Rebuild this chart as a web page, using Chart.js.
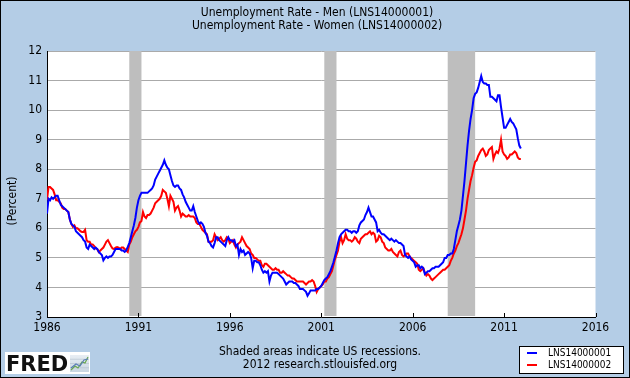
<!DOCTYPE html>
<html><head><meta charset="utf-8">
<script src="https://cdn.jsdelivr.net/npm/chart.js@4.4.1/dist/chart.umd.min.js"></script>
<style>html,body{margin:0;padding:0;background:#b4cde6;}canvas{display:block;}</style>
</head><body>
<canvas id="c" width="630" height="378"></canvas>
<script>
const startYear = 1986;
const titleLines = ["Unemployment Rate - Men (LNS14000001)", "Unemployment Rate - Women (LNS14000002)"];
const yAxisLabel = "(Percent)";
const footerLines = ["Shaded areas indicate US recessions.", "2012 research.stlouisfed.org"];
const seriesNames = ["LNS14000001", "LNS14000002"];
const xTickYears = [1986, 1991, 1996, 2001, 2006, 2011, 2016];
const yTicks = [3, 4, 5, 6, 7, 8, 9, 10, 11, 12];
// recessions as [start, end] in decimal years
const recessions = [[1990.5, 1991.1667], [2001.1667, 2001.8333], [2007.9167, 2009.4167]];

// Monthly, Jan 1986 - Dec 2011
const menRate = [
 6.5,7.0,6.95,7.05,7.0,7.05,7.1,7.1,6.95,6.8,6.75,6.7,
 6.65,6.6,6.55,6.3,6.15,6.1,6.05,5.9,5.85,5.8,5.75,5.7,
 5.6,5.55,5.35,5.3,5.45,5.4,5.35,5.3,5.35,5.3,5.2,5.15,
 5.1,4.92,5.0,5.05,5.0,5.05,5.05,5.1,5.2,5.3,5.3,5.3,
 5.3,5.25,5.25,5.2,5.25,5.37,5.5,5.7,5.9,6.1,6.35,6.7,
 6.95,7.1,7.2,7.2,7.2,7.2,7.2,7.25,7.3,7.35,7.45,7.65,
 7.75,7.85,7.95,8.05,8.15,8.3,8.15,8.05,8.0,7.8,7.6,7.45,
 7.4,7.45,7.45,7.35,7.3,7.15,7.05,6.9,6.8,6.7,6.6,6.6,
 6.75,6.55,6.4,6.25,6.15,6.2,6.15,6.05,5.85,5.75,5.55,5.5,
 5.4,5.35,5.5,5.7,5.7,5.6,5.55,5.5,5.45,5.4,5.6,5.7,
 5.6,5.6,5.55,5.6,5.4,5.45,5.1,5.3,5.2,5.25,5.1,5.15,
 5.2,5.15,5.0,4.65,4.9,4.9,4.85,4.85,4.75,4.6,4.5,4.55,
 4.5,4.55,4.2,4.4,4.5,4.5,4.5,4.5,4.45,4.4,4.35,4.3,
 4.2,4.1,4.15,4.2,4.2,4.2,4.15,4.15,4.1,4.05,3.95,3.95,
 3.95,3.9,3.85,3.72,3.8,3.9,3.9,3.9,3.9,3.95,3.95,4.0,
 4.05,4.15,4.25,4.3,4.35,4.45,4.55,4.7,4.85,5.05,5.25,5.5,
 5.7,5.8,5.85,5.9,5.95,5.95,5.9,5.9,5.85,5.9,5.9,5.85,
 5.9,6.1,6.2,6.25,6.3,6.45,6.55,6.7,6.55,6.4,6.4,6.3,
 6.2,5.9,5.95,5.85,5.8,5.8,5.75,5.7,5.65,5.6,5.65,5.6,
 5.55,5.6,5.55,5.5,5.5,5.45,5.4,5.1,5.05,5.0,5.05,4.95,
 4.9,4.85,4.7,4.75,4.75,4.65,4.7,4.65,4.45,4.5,4.55,4.55,
 4.6,4.65,4.65,4.7,4.7,4.7,4.75,4.8,4.85,5.0,5.0,5.1,
 5.1,5.15,5.15,5.3,5.6,5.9,6.1,6.3,6.6,7.1,7.6,8.2,
 8.8,9.3,9.7,10.0,10.4,10.55,10.6,10.75,10.95,11.15,10.95,10.9,
 10.9,10.85,10.85,10.45,10.45,10.4,10.35,10.3,10.5,10.5,10.1,9.75,
 9.4,9.4,9.5,9.6,9.7,9.6,9.55,9.45,9.35,9.05,8.8,8.7
];
const womenRate = [
 6.95,7.4,7.4,7.35,7.3,7.15,6.95,6.95,6.9,6.85,6.7,6.65,
 6.65,6.6,6.55,6.3,6.15,6.05,6.1,6.0,6.0,5.95,5.9,5.88,
 5.88,5.95,5.6,5.55,5.55,5.45,5.45,5.4,5.32,5.3,5.2,5.25,
 5.3,5.35,5.45,5.55,5.6,5.5,5.4,5.32,5.3,5.35,5.37,5.35,
 5.3,5.35,5.35,5.3,5.25,5.2,5.45,5.55,5.7,5.8,5.9,5.95,
 6.05,6.2,6.25,6.55,6.4,6.35,6.45,6.45,6.5,6.6,6.7,6.85,
 6.9,6.95,7.0,7.1,7.3,7.25,7.2,7.0,6.75,7.1,7.0,6.9,
 6.6,6.7,6.75,6.6,6.4,6.5,6.45,6.4,6.4,6.45,6.4,6.4,
 6.4,6.35,6.2,6.15,6.15,6.05,5.95,5.9,5.85,5.8,5.55,5.55,
 5.55,5.6,5.8,5.7,5.6,5.65,5.7,5.6,5.55,5.6,5.7,5.65,
 5.5,5.55,5.6,5.45,5.35,5.45,5.5,5.55,5.7,5.6,5.5,5.4,
 5.35,5.3,5.15,5.1,5.0,5.0,4.95,4.9,4.9,4.75,4.7,4.8,
 4.8,4.75,4.7,4.65,4.6,4.6,4.65,4.6,4.6,4.5,4.5,4.55,
 4.5,4.45,4.4,4.4,4.35,4.3,4.3,4.25,4.2,4.2,4.2,4.2,
 4.2,4.15,4.1,4.15,4.2,4.2,4.25,4.2,4.05,3.85,3.95,4.0,
 4.05,4.1,4.2,4.2,4.3,4.35,4.45,4.55,4.75,4.95,5.1,5.25,
 5.55,5.7,5.5,5.6,5.8,5.65,5.6,5.6,5.55,5.6,5.7,5.65,
 5.55,5.5,5.65,5.7,5.75,5.8,5.8,5.85,5.9,5.8,5.85,5.8,
 5.55,5.6,5.75,5.7,5.55,5.5,5.35,5.3,5.25,5.25,5.3,5.2,
 5.15,5.1,5.05,5.2,5.25,5.1,5.05,5.1,5.15,5.15,5.05,5.0,
 4.95,4.9,4.85,4.8,4.6,4.55,4.6,4.65,4.5,4.4,4.45,4.4,
 4.3,4.25,4.3,4.35,4.4,4.45,4.5,4.55,4.6,4.6,4.65,4.7,
 4.75,4.9,5.0,5.15,5.25,5.4,5.5,5.65,5.8,6.0,6.3,6.6,
 7.0,7.3,7.6,7.8,8.05,8.25,8.3,8.45,8.55,8.65,8.7,8.6,
 8.45,8.5,8.65,8.7,8.75,8.35,8.5,8.6,8.55,8.7,9.0,8.6,
 8.5,8.45,8.35,8.4,8.5,8.5,8.55,8.6,8.55,8.4,8.35,8.35
];

const seriesColors = ["#0000ff", "#ff0000"];
const FONT = '"DejaVu Sans Condensed", "DejaVu Sans", sans-serif';
const BG = "#b4cde6";
const toPoints = arr => arr.map((v, i) => ({ x: startYear + i / 12, y: v }));

const deco = {
  id: "deco",
  beforeDraw(chart) {
    const { ctx, chartArea: a } = chart;
    ctx.save();
    ctx.fillStyle = BG;
    ctx.fillRect(0, 0, chart.width, chart.height);
    ctx.fillStyle = "#ffffff";
    ctx.fillRect(a.left, a.top, a.right - a.left, a.bottom - a.top);
    ctx.restore();
  },
  beforeDatasetsDraw(chart) {
    const { ctx, chartArea: a, scales } = chart;
    const xs = scales.x;
    ctx.save();
    ctx.fillStyle = "#bebebe";
    recessions.forEach(([s, e]) => {
      const x1 = xs.getPixelForValue(s), x2 = xs.getPixelForValue(e);
      ctx.fillRect(x1, a.top, x2 - x1, a.bottom - a.top - 1);
    });
    ctx.restore();
  },
  afterDraw(chart) {
    const { ctx, chartArea: a, scales } = chart;
    const xs = scales.x;
    ctx.save();
    // x tick marks pointing up
    ctx.strokeStyle = "#000";
    ctx.lineWidth = 1;
    xs.ticks.forEach(t => {
      const px = Math.round(xs.getPixelForValue(t.value)) + 0.5;
      ctx.beginPath(); ctx.moveTo(px, a.bottom); ctx.lineTo(px, a.bottom - 4); ctx.stroke();
    });
    // titles
    ctx.fillStyle = "#000";
    ctx.textAlign = "center";
    ctx.textBaseline = "middle";
    ctx.font = "12px " + FONT;
    ctx.fillText(titleLines[0], 317, 13);
    ctx.fillText(titleLines[1], 317, 26);
    // y label
    ctx.save();
    ctx.translate(13, 201);
    ctx.rotate(-Math.PI / 2);
    ctx.font = "12px " + FONT;
    ctx.fillText(yAxisLabel, 0, 0);
    ctx.restore();
    // footer
    ctx.font = "12px " + FONT;
    ctx.fillText(footerLines[0], 320, 352);
    ctx.fillText(footerLines[1], 320, 365);
    // legend
    ctx.fillStyle = "#fff";
    ctx.fillRect(519, 346, 105, 28);
    ctx.strokeStyle = "#000";
    ctx.strokeRect(519.5, 346.5, 104, 27);
    ctx.font = "10px " + FONT;
    ctx.textAlign = "left";
    chart.data.datasets.forEach((ds, i) => {
      const y = 353 + i * 12;
      ctx.fillStyle = ds.borderColor;
      ctx.fillRect(527, y - 1, 10, 2);
      ctx.fillStyle = "#000";
      ctx.fillText(ds.label, 548, y);
    });
    // FRED logo
    ctx.fillStyle = "#fff";
    ctx.fillRect(5, 352, 85, 22);
    ctx.fillStyle = "#111";
    ctx.font = 'bold 21px "DejaVu Sans", sans-serif';
    ctx.textBaseline = "alphabetic";
    ctx.fillText("FRED", 6, 371);
    // icon
    const ix = 70, iy = 355;
    const g = ctx.createLinearGradient(ix, iy, ix, iy + 17);
    g.addColorStop(0, "#e8eef4"); g.addColorStop(1, "#c9d6e2");
    ctx.fillStyle = g;
    ctx.fillRect(ix, iy, 19, 17);
    ctx.strokeStyle = "#aab8c6"; ctx.lineWidth = 0.5;
    for (let k = 1; k < 4; k++) { ctx.beginPath(); ctx.moveTo(ix, iy + k * 4.25); ctx.lineTo(ix + 19, iy + k * 4.25); ctx.stroke(); }
    ctx.lineWidth = 1.2;
    ctx.strokeStyle = "#6aa84f";
    ctx.beginPath(); ctx.moveTo(ix + 1, iy + 15); ctx.lineTo(ix + 5, iy + 11); ctx.lineTo(ix + 8, iy + 13); ctx.lineTo(ix + 12, iy + 7); ctx.lineTo(ix + 15, iy + 8); ctx.lineTo(ix + 18, iy + 2); ctx.stroke();
    ctx.strokeStyle = "#5b7fb5";
    ctx.beginPath(); ctx.moveTo(ix + 1, iy + 13); ctx.lineTo(ix + 6, iy + 9); ctx.lineTo(ix + 10, iy + 11); ctx.lineTo(ix + 14, iy + 5); ctx.lineTo(ix + 18, iy + 4); ctx.stroke();
    // outer border
    ctx.strokeStyle = "#000"; ctx.lineWidth = 1;
    ctx.strokeRect(0.5, 0.5, chart.width - 1, chart.height - 1);
    ctx.restore();
  }
};

new Chart(document.getElementById("c"), {
  type: "line",
  data: {
    datasets: [
      { label: seriesNames[0], data: toPoints(menRate), borderColor: seriesColors[0], borderWidth: 2, pointRadius: 0, tension: 0, fill: false },
      { label: seriesNames[1], data: toPoints(womenRate), borderColor: seriesColors[1], borderWidth: 2, pointRadius: 0, tension: 0, fill: false }
    ]
  },
  options: {
    responsive: false,
    animation: false,
    events: [],
    layout: { padding: { left: 0, top: 51, right: 34.5, bottom: 0 } },
    plugins: { legend: { display: false }, title: { display: false }, tooltip: { enabled: false } },
    scales: {
      x: {
        type: "linear", min: 1986, max: 2016,
        afterBuildTicks: s => { s.ticks = xTickYears.map(v => ({ value: v })); },
        afterFit: s => { s.height = 61; },
        grid: { display: false, drawTicks: false },
        border: { display: true, color: "#000", width: 1 },
        ticks: { callback: v => String(v), color: "#000", font: { family: FONT, size: 12 }, padding: 4, maxRotation: 0, autoSkip: false }
      },
      y: {
        min: 3, max: 12,
        afterBuildTicks: s => { s.ticks = yTicks.map(v => ({ value: v })); },
        afterFit: s => { s.width = 47; },
        grid: { color: "#aaaaaa", lineWidth: 1, drawTicks: false },
        border: { display: true, color: "#000", width: 1 },
        ticks: { callback: v => String(v), color: "#000", font: { family: FONT, size: 12 }, padding: 5 }
      }
    }
  },
  plugins: [deco]
});
</script>
</body></html>
